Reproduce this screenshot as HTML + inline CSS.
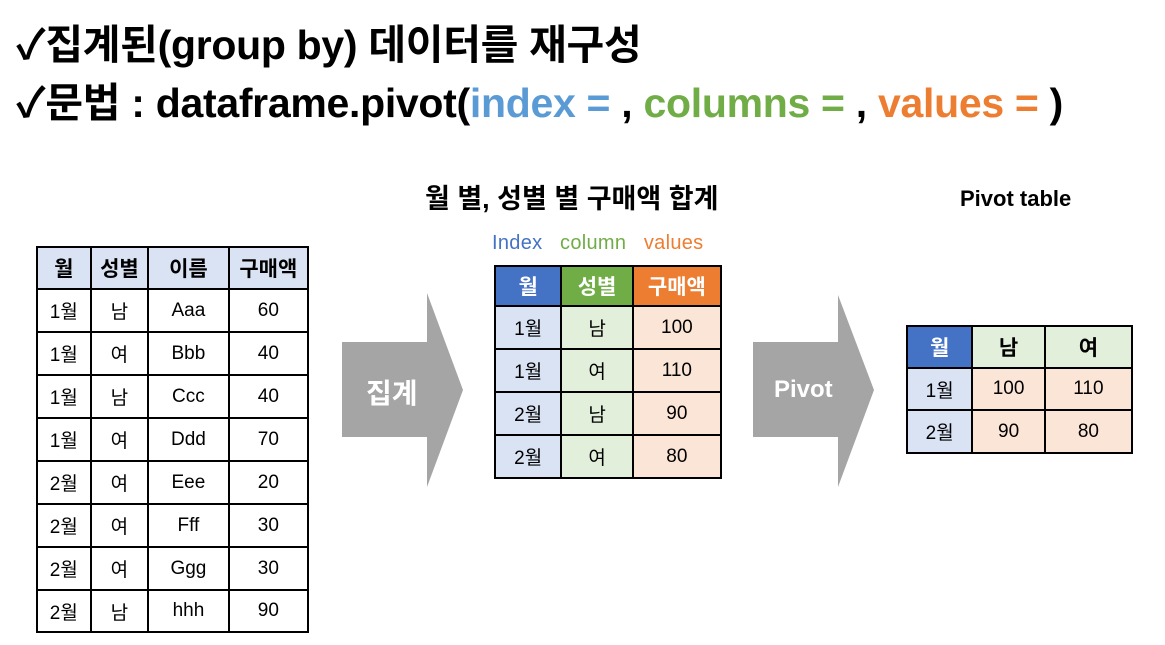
<!DOCTYPE html>
<html><head><meta charset="utf-8"><style>
body{margin:0;width:1165px;height:645px;background:#fff;position:relative;overflow:hidden;font-family:"Liberation Sans","Noto Sans CJK KR",sans-serif;}
.a{position:absolute;white-space:nowrap;}
.t{font-weight:bold;font-size:41px;line-height:42px;color:#000;letter-spacing:-0.3px}
table{position:absolute;border-collapse:collapse;font-size:19px;}
td{border:2px solid #000;text-align:center;padding:0;}
.h{font-weight:bold;font-size:21px}
</style></head><body>
<div class="a t" style="left:16px;top:24px;">✓집계된(group by) 데이터를 재구성</div>
<div class="a t" style="left:16px;top:82px;">✓문법 : dataframe.pivot(<span style="color:#5b9bd5">index = </span>, <span style="color:#70ad47">columns = </span>, <span style="color:#ed7d31">values = </span>)</div>

<div class="a" style="left:425px;top:184px;font-weight:bold;font-size:27px;line-height:30px;">월 별, 성별 별 구매액 합계</div>
<div class="a" style="left:960px;top:186px;font-weight:bold;font-size:22px;line-height:26px;">Pivot table</div>
<div class="a" style="left:492px;top:231px;font-size:20px;line-height:24px;letter-spacing:0.3px"><span style="color:#4472c4">Index</span>&nbsp;&nbsp; <span style="color:#70ad47">column</span>&nbsp;&nbsp; <span style="color:#ed7d31">values</span></div>

<table style="left:36px;top:246px;width:273px;">
<colgroup><col style="width:54px"><col style="width:58px"><col style="width:81px"><col style="width:80px"></colgroup>
<tr style="height:42px;background:#dae3f3" class="h"><td>월</td><td>성별</td><td>이름</td><td>구매액</td></tr>
<tr style="height:43px"><td>1월</td><td>남</td><td>Aaa</td><td>60</td></tr>
<tr style="height:43px"><td>1월</td><td>여</td><td>Bbb</td><td>40</td></tr>
<tr style="height:43px"><td>1월</td><td>남</td><td>Ccc</td><td>40</td></tr>
<tr style="height:43px"><td>1월</td><td>여</td><td>Ddd</td><td>70</td></tr>
<tr style="height:43px"><td>2월</td><td>여</td><td>Eee</td><td>20</td></tr>
<tr style="height:43px"><td>2월</td><td>여</td><td>Fff</td><td>30</td></tr>
<tr style="height:43px"><td>2월</td><td>여</td><td>Ggg</td><td>30</td></tr>
<tr style="height:42px"><td>2월</td><td>남</td><td>hhh</td><td>90</td></tr>
</table>

<svg class="a" style="left:0;top:0" width="1165" height="645">
<polygon points="342,342 427,342 427,293 463,390 427,487 427,437 342,437" fill="#a5a5a5"/>
<polygon points="753,342 838,342 838,295 874,390 838,487 838,437 753,437" fill="#a5a5a5"/>
</svg>
<div class="a" style="left:366px;top:372px;color:#fff;font-weight:bold;font-size:28px;">집계</div>
<div class="a" style="left:774px;top:376px;color:#fff;font-weight:bold;font-size:24px;">Pivot</div>

<table style="left:494px;top:265px;width:228px;">
<colgroup><col style="width:67px"><col style="width:72px"><col style="width:89px"></colgroup>
<tr style="height:40px;color:#fff" class="h"><td style="background:#4472c4">월</td><td style="background:#70ad47">성별</td><td style="background:#ed7d31">구매액</td></tr>
<tr style="height:43px"><td style="background:#dae3f3">1월</td><td style="background:#e2efda">남</td><td style="background:#fbe5d6">100</td></tr>
<tr style="height:43px"><td style="background:#dae3f3">1월</td><td style="background:#e2efda">여</td><td style="background:#fbe5d6">110</td></tr>
<tr style="height:43px"><td style="background:#dae3f3">2월</td><td style="background:#e2efda">남</td><td style="background:#fbe5d6">90</td></tr>
<tr style="height:43px"><td style="background:#dae3f3">2월</td><td style="background:#e2efda">여</td><td style="background:#fbe5d6">80</td></tr>
</table>

<table style="left:906px;top:325px;width:227px;">
<colgroup><col style="width:66px"><col style="width:73px"><col style="width:88px"></colgroup>
<tr style="height:42px" class="h"><td style="background:#4472c4;color:#fff">월</td><td style="background:#e2efda">남</td><td style="background:#e2efda">여</td></tr>
<tr style="height:42px"><td style="background:#dae3f3">1월</td><td style="background:#fbe5d6">100</td><td style="background:#fbe5d6">110</td></tr>
<tr style="height:43px"><td style="background:#dae3f3">2월</td><td style="background:#fbe5d6">90</td><td style="background:#fbe5d6">80</td></tr>
</table>
</body></html>
